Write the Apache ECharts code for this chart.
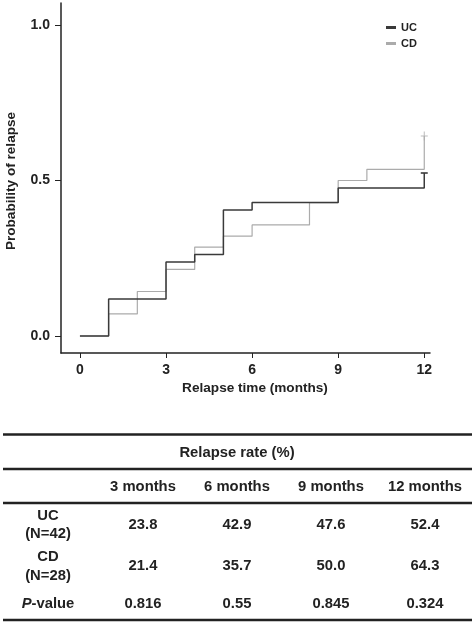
<!DOCTYPE html>
<html>
<head>
<meta charset="utf-8">
<script src="https://cdn.jsdelivr.net/npm/echarts@6/dist/echarts.min.js"></script>
<style>
html,body{margin:0;padding:0;background:#fff;}
#c{width:475px;height:623px;}
</style>
</head>
<body>
<div id="c"></div>
<script>
// ---- data ----
const seriesNames = ['UC', 'CD'];
const ucTimes = [0, 1, 3, 4, 5, 6, 9, 12];
const ucProb  = [0, 0.119, 0.238, 0.262, 0.405, 0.429, 0.476, 0.524];
const cdTimes = [0, 1, 2, 3, 4, 5, 6, 8, 9, 10, 12];
const cdProb  = [0, 0.071, 0.143, 0.214, 0.286, 0.321, 0.357, 0.429, 0.500, 0.536, 0.643];
const xTicks = [0, 3, 6, 9, 12];
const yTicks = [0.0, 0.5, 1.0];
const yTickLabels = ['0.0', '0.5', '1.0'];
const tableTitle = 'Relapse rate (%)';
const monthLabels = ['3 months', '6 months', '9 months', '12 months'];
const rowGroups = [['UC', '(N=42)'], ['CD', '(N=28)']];
const ucRates = ['23.8', '42.9', '47.6', '52.4'];
const cdRates = ['21.4', '35.7', '50.0', '64.3'];
const pValues = ['0.816', '0.55', '0.845', '0.324'];

const ucData = ucTimes.map((t, i) => [t, ucProb[i]]);
const cdData = cdTimes.map((t, i) => [t, cdProb[i]]);

const FONT = '"Liberation Sans", Arial, sans-serif';
const UCC = '#3a3a3a', CDC = '#ababab';

const chart = echarts.init(document.getElementById('c'));

// table graphics
const colX = [143, 237, 331, 425];
const rowLabelX = 48;
const TF = 'bold 14.8px ' + FONT;
const tableTxt = (x, y, text, extra) => Object.assign({
  type: 'text', x: x, y: y,
  style: { text: text, font: TF, fill: '#222', align: 'center', verticalAlign: 'middle' }
}, extra || {});
const hline = (y, w) => ({ type: 'line', shape: { x1: 3, y1: y, x2: 472, y2: y }, style: { stroke: '#222', lineWidth: w } });

const graphics = [
  { type: 'text', x: 11, y: 181, rotation: Math.PI / 2,
    style: { text: 'Probability of relapse', font: 'bold 13.6px ' + FONT, fill: '#222', align: 'center', verticalAlign: 'middle' } },
  { type: 'text', x: 255, y: 388,
    style: { text: 'Relapse time (months)', font: 'bold 13.6px ' + FONT, fill: '#222', align: 'center', verticalAlign: 'middle' } },
  hline(434.5, 2.5), hline(469, 2.5), hline(503, 2.5), hline(620, 2.5),
  tableTxt(237, 453, tableTitle)
];
monthLabels.forEach((m, i) => graphics.push(tableTxt(colX[i], 487, m)));
graphics.push(tableTxt(rowLabelX, 516, rowGroups[0][0]), tableTxt(rowLabelX, 534, rowGroups[0][1]));
graphics.push(tableTxt(rowLabelX, 557, rowGroups[1][0]), tableTxt(rowLabelX, 576, rowGroups[1][1]));
ucRates.forEach((v, i) => graphics.push(tableTxt(colX[i], 524.5, v)));
cdRates.forEach((v, i) => graphics.push(tableTxt(colX[i], 566, v)));
pValues.forEach((v, i) => graphics.push(tableTxt(colX[i], 603.5, v)));
graphics.push({
  type: 'text', x: rowLabelX, y: 603.5,
  style: {
    text: '{i|P}{n|-value}', align: 'center', verticalAlign: 'middle',
    rich: {
      i: { font: 'italic bold 14.8px ' + FONT, fill: '#222' },
      n: { font: TF, fill: '#222' }
    }
  }
});

const plusSym = 'path://M0,4L3,4L3,0L4,0L4,4L7,4L7,5L4,5L4,9L3,9L3,5L0,5Z';

chart.setOption({
  animation: false,
  backgroundColor: '#fff',
  grid: { left: 61, top: 3, width: 369, height: 350 },
  xAxis: {
    type: 'value', min: -0.66, max: 12.2,
    axisLine: { show: true, onZero: false, lineStyle: { color: '#222', width: 1.5 } },
    axisTick: { show: true, customValues: xTicks, length: 5, lineStyle: { color: '#222' } },
    axisLabel: { customValues: xTicks, color: '#222', fontFamily: FONT, fontWeight: 'bold', fontSize: 14, margin: 10 },
    splitLine: { show: false }
  },
  yAxis: {
    type: 'value', min: -0.0547, max: 1.0707,
    axisLine: { show: true, onZero: false, lineStyle: { color: '#222', width: 1.5 } },
    axisTick: { show: true, customValues: yTicks, length: 6, lineStyle: { color: '#222' } },
    axisLabel: { customValues: yTicks, color: '#222', fontFamily: FONT, fontWeight: 'bold', fontSize: 14, margin: 11,
      formatter: v => yTickLabels[yTicks.indexOf(Math.round(v * 10) / 10)] },
    splitLine: { show: false }
  },
  legend: {
    data: seriesNames, orient: 'vertical', left: 381, top: 17, itemWidth: 10, itemHeight: 3, itemGap: 5,
    icon: 'rect',
    textStyle: { color: '#222', fontFamily: FONT, fontWeight: 'bold', fontSize: 11 }
  },
  graphic: graphics,
  series: [
    { name: 'CD', type: 'line', step: 'end', data: cdData, showSymbol: false, symbol: 'none',
      color: CDC, lineStyle: { color: CDC, width: 1.2 } },
    { name: 'UC', type: 'line', step: 'end', data: ucData, showSymbol: false, symbol: 'none',
      color: UCC, lineStyle: { color: UCC, width: 1.5 } },
    { name: 'CDcens', type: 'scatter', data: [cdData[cdData.length - 1]], symbol: plusSym, symbolSize: [7, 9],
      itemStyle: { color: CDC } },
    { name: 'UCcens', type: 'scatter', data: [ucData[ucData.length - 1]], symbol: 'rect', symbolSize: [7, 2],
      itemStyle: { color: UCC } }
  ]
});
</script>
</body>
</html>
